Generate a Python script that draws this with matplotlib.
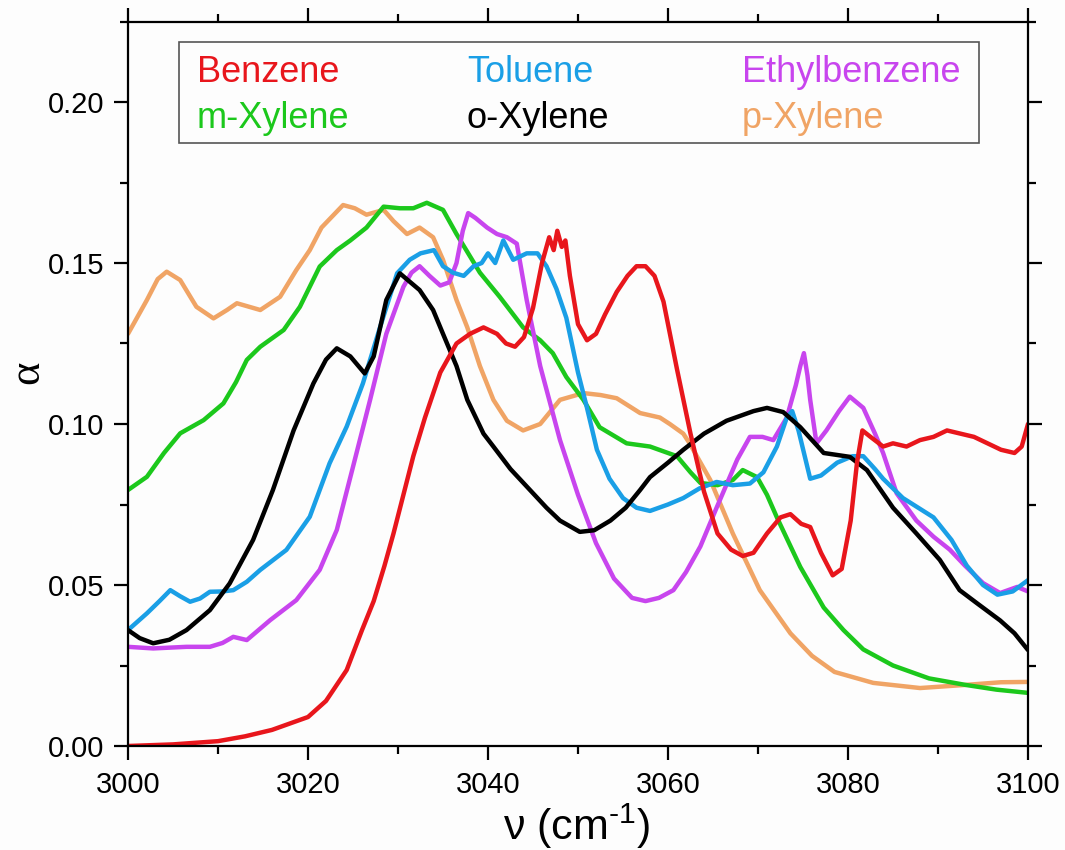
import matplotlib
matplotlib.use('Agg')
import matplotlib.pyplot as plt
from matplotlib.ticker import MultipleLocator
from matplotlib.patches import Rectangle

# absorption spectra (alpha vs wavenumber)

benzene_x = [3000, 3005, 3010, 3013, 3016, 3018, 3020, 3022, 3024.3, 3026,
             3027.3, 3028.5, 3029.5, 3030.6, 3031.7, 3033, 3034.7, 3036.5, 3038, 3039.5,
             3041, 3042, 3043, 3044, 3045, 3046, 3046.8, 3047.3, 3047.7, 3048.2,
             3048.6, 3049.1, 3050, 3051, 3052, 3053, 3054.3, 3055.5, 3056.5, 3057.5,
             3058.5, 3059.5, 3061, 3062.5, 3064, 3065.5, 3067, 3068.3, 3069.5, 3071,
             3072.5, 3073.6, 3074.8, 3075.8, 3077, 3078.3, 3079.3, 3080.3, 3081, 3081.6,
             3082.5, 3083.9, 3085, 3086.5, 3088, 3089.5, 3091, 3092.5, 3094, 3095.5,
             3097, 3098.5, 3099.3, 3100]
benzene_y = [0.000, 0.0005, 0.0015, 0.003, 0.005, 0.007, 0.009, 0.014, 0.0236, 0.036,
             0.045, 0.056, 0.066, 0.078, 0.090, 0.102, 0.116, 0.125, 0.128, 0.130,
             0.128, 0.125, 0.124, 0.127, 0.136, 0.150, 0.158, 0.154, 0.160, 0.155,
             0.157, 0.146, 0.131, 0.126, 0.128, 0.134, 0.141, 0.146, 0.149, 0.149,
             0.146, 0.138, 0.117, 0.097, 0.079, 0.066, 0.061, 0.059, 0.060, 0.066,
             0.071, 0.072, 0.069, 0.068, 0.060, 0.053, 0.055, 0.070, 0.088, 0.098,
             0.096, 0.093, 0.094, 0.093, 0.095, 0.096, 0.098, 0.097, 0.096, 0.094,
             0.092, 0.091, 0.093, 0.100]

toluene_x = [3000, 3002.1, 3003.5, 3004.7, 3005.8, 3006.9, 3008, 3009.1, 3010.5, 3011.7,
             3013.2, 3014.7, 3017.6, 3020.2, 3022.4, 3024.3, 3026.1, 3028, 3029.9, 3031.3,
             3032.5, 3034, 3035, 3036.1, 3037.3, 3038.4, 3039.3, 3040, 3040.8, 3041.7,
             3042.8, 3044.3, 3045.5, 3046.5, 3047.6, 3048.7, 3050, 3051, 3052.1, 3053.5,
             3055, 3056.5, 3058, 3060, 3061.7, 3063.5, 3065.4, 3067.2, 3069.1, 3070.6,
             3072.1, 3073.2, 3073.8, 3074.5, 3075.8, 3077, 3078.8, 3080.5, 3081.7, 3083,
             3083.9, 3086.1, 3089.5, 3091.5, 3093.2, 3095, 3096.6, 3098.3, 3100]
toluene_y = [0.036, 0.0412, 0.045, 0.0484, 0.0465, 0.0448, 0.0458, 0.0479, 0.048, 0.0484,
             0.051, 0.0547, 0.0609, 0.0712, 0.0878, 0.0992, 0.1126, 0.130, 0.1468, 0.151,
             0.153, 0.154, 0.149, 0.147, 0.146, 0.149, 0.150, 0.153, 0.150, 0.157,
             0.151, 0.153, 0.153, 0.149, 0.142, 0.133, 0.116, 0.105, 0.092, 0.083,
             0.077, 0.074, 0.073, 0.075, 0.077, 0.080, 0.082, 0.081, 0.0815, 0.085,
             0.093, 0.102, 0.104, 0.098, 0.083, 0.084, 0.088, 0.090, 0.090, 0.086,
             0.083, 0.077, 0.071, 0.064, 0.056, 0.050, 0.047, 0.048, 0.0515]

ethyl_x = [3000, 3002.8, 3006.5, 3009.1, 3010.5, 3011.7, 3013.2, 3014.5, 3015.8, 3018.7,
           3021.3, 3023.2, 3025, 3026.9, 3028.7, 3030.6, 3031.5, 3032.4, 3033.5, 3034.7,
           3035.7, 3036.5, 3037.2, 3037.8, 3038.6, 3039.9, 3041, 3042.1, 3043.2, 3044.3,
           3045.8, 3048, 3050, 3052, 3054, 3056, 3057.5, 3059, 3060.6, 3062,
           3063.6, 3065.4, 3067.7, 3069.1, 3070.5, 3071.7, 3073.2, 3074.2, 3074.7, 3075.1,
           3075.5, 3075.8, 3076.5, 3077.6, 3079, 3080.2, 3081.7, 3083, 3083.9, 3085.4,
           3087.6, 3089.5, 3091.3, 3093, 3095, 3096.9, 3098.8, 3100]
ethyl_y = [0.0308, 0.0303, 0.0308, 0.0308, 0.032, 0.0339, 0.0329, 0.036, 0.0391, 0.0453,
           0.0547, 0.0671, 0.0867, 0.1075, 0.128, 0.1426, 0.147, 0.149, 0.146, 0.143,
           0.144, 0.150, 0.160, 0.1655, 0.164, 0.161, 0.159, 0.158, 0.156, 0.1385,
           0.118, 0.095, 0.078, 0.063, 0.052, 0.046, 0.045, 0.046, 0.0484, 0.054,
           0.062, 0.074, 0.089, 0.096, 0.096, 0.095, 0.102, 0.112, 0.118, 0.122,
           0.115, 0.1075, 0.094, 0.098, 0.104, 0.1085, 0.105, 0.097, 0.091, 0.0785,
           0.070, 0.065, 0.061, 0.056, 0.0506, 0.0475, 0.0494, 0.048]

mxyl_x = [3000, 3002.1, 3004, 3005.8, 3008.4, 3010.6, 3012, 3013.2, 3014.7, 3017.3,
          3019.1, 3021.3, 3023.2, 3024.7, 3026.5, 3028.4, 3030.2, 3031.7, 3033.2, 3035,
          3036.5, 3037.8, 3039.1, 3041.3, 3043.9, 3045.8, 3047.2, 3048.7, 3050.6, 3052.4,
          3055.4, 3058, 3061, 3062.5, 3063.6, 3065.5, 3067.2, 3068.3, 3069.9, 3071,
          3072.1, 3074.7, 3077.3, 3079.5, 3081.7, 3085, 3089, 3093, 3096.5, 3100]
mxyl_y = [0.0795, 0.0836, 0.091, 0.0971, 0.1012, 0.1064, 0.113, 0.1199, 0.124, 0.1292,
          0.1364, 0.1489, 0.154, 0.157, 0.161, 0.1675, 0.167, 0.167, 0.1687, 0.1665,
          0.159, 0.153, 0.147, 0.1395, 0.130, 0.126, 0.122, 0.1146, 0.1075, 0.099,
          0.094, 0.093, 0.090, 0.085, 0.0817, 0.081, 0.0826, 0.0857, 0.0835, 0.078,
          0.071, 0.0556, 0.043, 0.036, 0.030, 0.025, 0.021, 0.019, 0.0175, 0.0165]

oxyl_x = [3000, 3001.3, 3002.8, 3004.6, 3006.5, 3009.1, 3011.3, 3013.9, 3016.1, 3018.4,
          3020.6, 3022, 3023.2, 3024.7, 3026.3, 3027.3, 3028.7, 3030.2, 3032.4, 3033.9,
          3035, 3036.5, 3037.7, 3039.5, 3040.6, 3042.5, 3044.5, 3046.5, 3048, 3050.2,
          3051.8, 3053.6, 3055.3, 3056.9, 3058, 3060, 3061.7, 3064, 3066.5, 3068.3,
          3069.5, 3071, 3072.8, 3074.7, 3077.3, 3080.2, 3082.1, 3085, 3087.6, 3090.2,
          3092.4, 3094.3, 3096.9, 3098.5, 3100]
oxyl_y = [0.036, 0.0335, 0.0319, 0.033, 0.036, 0.0422, 0.0505, 0.064, 0.0795, 0.098,
          0.1126, 0.120, 0.1235, 0.121, 0.1157, 0.121, 0.1385, 0.1468, 0.1416, 0.1354,
          0.128, 0.118, 0.1075, 0.097, 0.093, 0.086, 0.080, 0.074, 0.070, 0.0665,
          0.067, 0.070, 0.074, 0.0795, 0.0835, 0.088, 0.092, 0.097, 0.101, 0.1028,
          0.104, 0.105, 0.1037, 0.099, 0.091, 0.0898, 0.0857, 0.074, 0.066, 0.0578,
          0.0484, 0.0444, 0.039, 0.035, 0.0298]

pxyl_x = [3000, 3002.1, 3003.3, 3004.3, 3005.8, 3007.6, 3009.5, 3011, 3012.1, 3014.7,
          3016.9, 3018.7, 3020.2, 3021.5, 3023.9, 3025.2, 3026.5, 3028.4, 3029.5, 3031,
          3032.4, 3033.9, 3035, 3036.5, 3037.7, 3039.1, 3040.6, 3042.1, 3043.9, 3045.8,
          3048, 3050.6, 3052.5, 3054.3, 3056.9, 3059.1, 3060.2, 3061.7, 3062.4, 3064.7,
          3067.2, 3070.2, 3073.6, 3076, 3078.5, 3082.8, 3088, 3093.2, 3097, 3100]
pxyl_y = [0.128, 0.1385, 0.145, 0.1473, 0.1447, 0.1364, 0.1328, 0.1354, 0.1375, 0.1354,
          0.1395, 0.1478, 0.154, 0.161, 0.168, 0.167, 0.165, 0.1665, 0.163, 0.159,
          0.161, 0.158, 0.151, 0.1385, 0.130, 0.118, 0.1075, 0.101, 0.098, 0.100,
          0.1075, 0.1096, 0.109, 0.108, 0.1034, 0.102, 0.100, 0.097, 0.094, 0.0826,
          0.066, 0.0484, 0.035, 0.028, 0.023, 0.0196, 0.018, 0.019, 0.0198, 0.0199]

names = ['Benzene', 'Toluene', 'Ethylbenzene', 'm-Xylene', 'o-Xylene', 'p-Xylene']
colors = ['#e8161c', '#1a9fe6', '#c845ee', '#1cc81c', '#000000', '#f0a465']

plt.rcParams['font.family'] = 'Liberation Sans'
plt.rcParams['mathtext.fontset'] = 'custom'
plt.rcParams['mathtext.rm'] = 'Liberation Sans'

W, H = 1065, 850
fig = plt.figure(figsize=(W / 100, H / 100), dpi=100)
fig.patch.set_facecolor('#fdfdfd')

# axes box in pixels: x 128..1028, y 21.5..746
ax = fig.add_axes([128 / W, 104 / H, 900 / W, 724.5 / H])
ax.set_facecolor('#fdfdfd')

series = [(pxyl_x, pxyl_y, 5), (mxyl_x, mxyl_y, 3), (ethyl_x, ethyl_y, 2),
          (toluene_x, toluene_y, 1), (oxyl_x, oxyl_y, 4), (benzene_x, benzene_y, 0)]
for xs, ys, i in series:
    ax.plot(xs, ys, color=colors[i], lw=3.2, solid_joinstyle='round',
            solid_capstyle='round', label=names[i])

ax.set_xlim(3000, 3100)
ax.set_ylim(0, 0.225)
ax.xaxis.set_major_locator(MultipleLocator(20))
ax.xaxis.set_minor_locator(MultipleLocator(10))
ax.yaxis.set_major_locator(MultipleLocator(0.05))
ax.yaxis.set_minor_locator(MultipleLocator(0.025))
ax.yaxis.set_major_formatter(plt.FormatStrFormatter('%.2f'))

ax.tick_params(which='both', direction='out', top=True, right=True, width=1.6,
               labelsize=21)
ax.tick_params(which='major', length=10)
ax.tick_params(which='minor', length=5.5)
ax.tick_params(axis='x', pad=8)
ax.tick_params(axis='y', pad=7)
for s in ax.spines.values():
    s.set_linewidth(1.6)

# axis labels
fig.text(577 / W, 1 - 826 / H, r'ν (cm$^{\text{-1}}$)', fontsize=31, ha='center', va='center')
fig.text(27 / W, 1 - 372 / H, 'α', fontsize=32, family='Liberation Serif',
         rotation=90, ha='center', va='center')

# legend box with coloured names
fig.add_artist(Rectangle((179 / W, 1 - 143 / H), 800 / W, 101 / H, transform=fig.transFigure,
                         fill=False, edgecolor='#555555', lw=1.2))
col_x = [197, 467, 742]
row_y = [82, 128]
for k, name in enumerate(names):
    fig.text(col_x[k % 3] / W, 1 - row_y[k // 3] / H, name, color=colors[k],
             fontsize=26, ha='left', va='baseline')

plt.savefig('out.png', dpi=100)
